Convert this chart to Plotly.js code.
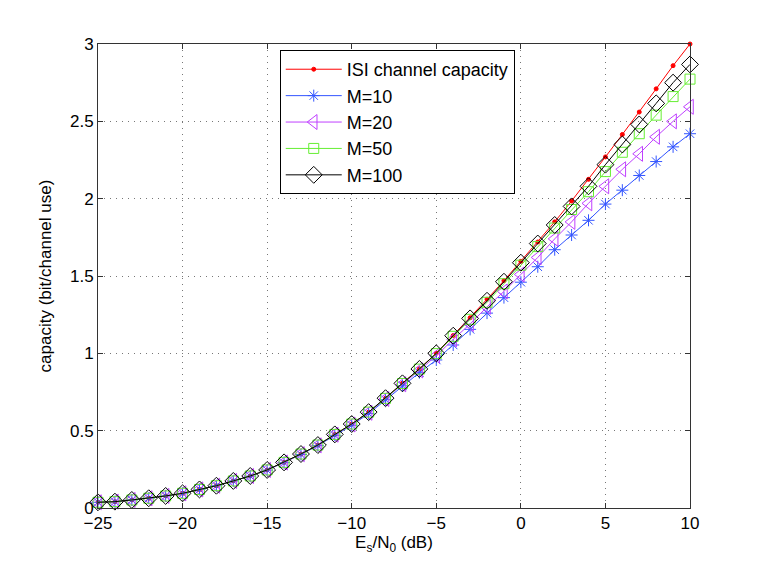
<!DOCTYPE html>
<html>
<head>
<meta charset="utf-8">
<script src="https://cdn.plot.ly/plotly-3.0.1.min.js"></script>
<style>
  html, body { margin: 0; padding: 0; background: #fff; }
  #chart { width: 761px; height: 573px; }
</style>
</head>
<body>
<div id="chart"></div>
<script>
// Es/N0 in dB
const snrDb = [-25, -24, -23, -22, -21, -20, -19, -18, -17, -16, -15, -14, -13, -12,
  -11, -10, -9, -8, -7, -6, -5, -4, -3, -2, -1, 0, 1, 2, 3, 4, 5, 6, 7, 8, 9, 10];

// values
const isiCapacity = [0.037, 0.041, 0.052, 0.063, 0.078, 0.095, 0.12, 0.144, 0.175, 0.207,
  0.246, 0.295, 0.349, 0.407, 0.476, 0.543, 0.62, 0.71, 0.807, 0.90, 1.0, 1.115, 1.23,
  1.35, 1.47, 1.595, 1.72, 1.85, 1.985, 2.125, 2.27, 2.415, 2.56, 2.71, 2.86, 3.0];

const m10 = [0.037, 0.041, 0.052, 0.063, 0.078, 0.095, 0.12, 0.144, 0.175, 0.206,
  0.245, 0.293, 0.346, 0.403, 0.47, 0.535, 0.61, 0.70, 0.79, 0.875, 0.957, 1.054, 1.155,
  1.26, 1.36, 1.46, 1.56, 1.67, 1.765, 1.86, 1.965, 2.055, 2.15, 2.24, 2.335, 2.42];

const m20 = [0.037, 0.041, 0.052, 0.063, 0.078, 0.095, 0.12, 0.144, 0.175, 0.207,
  0.246, 0.294, 0.348, 0.405, 0.474, 0.54, 0.616, 0.705, 0.80, 0.89, 0.985, 1.09, 1.19,
  1.30, 1.40, 1.51, 1.62, 1.74, 1.85, 1.97, 2.08, 2.19, 2.29, 2.40, 2.50, 2.594];

const m50 = [0.037, 0.041, 0.052, 0.063, 0.078, 0.095, 0.12, 0.144, 0.175, 0.207,
  0.246, 0.295, 0.349, 0.407, 0.476, 0.543, 0.62, 0.709, 0.805, 0.898, 0.998, 1.11, 1.22,
  1.33, 1.45, 1.57, 1.69, 1.81, 1.93, 2.045, 2.175, 2.30, 2.42, 2.54, 2.66, 2.773];

const m100 = [0.037, 0.041, 0.052, 0.063, 0.078, 0.095, 0.12, 0.144, 0.175, 0.207,
  0.246, 0.295, 0.349, 0.407, 0.476, 0.543, 0.62, 0.71, 0.806, 0.899, 1.0, 1.114, 1.226,
  1.34, 1.463, 1.586, 1.71, 1.83, 1.95, 2.08, 2.22, 2.35, 2.48, 2.616, 2.75, 2.868];

const FONT = 'Liberation Sans, Arial, Helvetica, sans-serif';

function series(name, y, color, symbol, size) {
  return {
    x: snrDb, y: y, name: name,
    type: 'scatter', mode: 'lines+markers',
    cliponaxis: false,
    line: { color: color, width: 1 },
    marker: {
      symbol: symbol, size: size, color: color,
      line: { color: color, width: 1 }
    }
  };
}

const data = [
  series('ISI channel capacity', isiCapacity, '#ff0000', 'circle', 4),
  series('M=10', m10, '#3355ff', 'asterisk-open', 10),
  series('M=20', m20, '#bf40ff', 'triangle-left-open', 13),
  series('M=50', m50, '#66ee33', 'square-open', 10),
  series('M=100', m100, '#000000', 'diamond-open', 13)
];

const axisCommon = {
  showline: true, mirror: 'ticks', linecolor: '#333', linewidth: 1,
  ticks: 'inside', ticklen: 5, tickcolor: '#333',
  showgrid: true, gridcolor: '#777', griddash: '1px,5px', gridwidth: 1,
  zeroline: false,
  tickfont: { family: FONT, size: 17, color: '#000' }
};

const layout = {
  width: 761, height: 573,
  paper_bgcolor: '#fff', plot_bgcolor: '#fff',
  margin: { l: 98, r: 71, t: 44, b: 65 },
  font: { family: FONT, size: 16, color: '#000' },
  showlegend: true,
  legend: {
    x: 0.307, y: 0.987, xanchor: 'left', yanchor: 'top',
    bgcolor: '#fff', bordercolor: '#000', borderwidth: 1,
    font: { family: FONT, size: 18, color: '#000' },
    itemwidth: 56, tracegroupgap: 0
  },
  xaxis: Object.assign({}, axisCommon, {
    range: [-25, 10], tickvals: [-25, -20, -15, -10, -5, 0, 5, 10],
    ticktext: ['\u221225', '\u221220', '\u221215', '\u221210', '\u22125', '0', '5', '10'],
    title: { text: 'E<sub>s</sub>/N<sub>0</sub> (dB)', standoff: 2,
      font: { family: FONT, size: 17, color: '#000' } }
  }),
  yaxis: Object.assign({}, axisCommon, {
    range: [0, 3], tickvals: [0, 0.5, 1, 1.5, 2, 2.5, 3],
    ticktext: ['0', '0.5', '1', '1.5', '2', '2.5', '3'],
    title: { text: 'capacity (bit/channel use)', standoff: 14,
      font: { family: FONT, size: 17, color: '#000' } }
  })
};

Plotly.newPlot('chart', data, layout, { displayModeBar: false, staticPlot: true });
</script>
</body>
</html>
